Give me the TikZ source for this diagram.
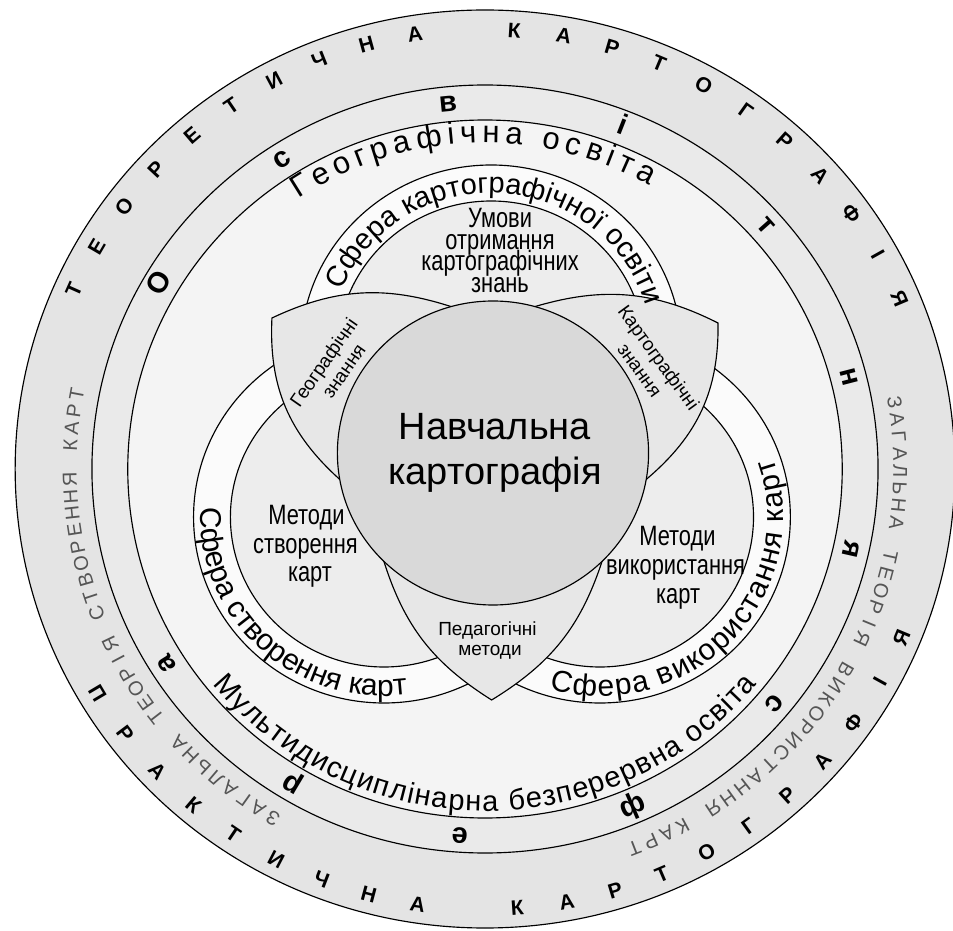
\documentclass[tikz,border=0pt]{standalone}
\usepackage{fontspec}
\setmainfont{Liberation Sans}
\newfontfamily\condfont{Liberation Sans}[FakeStretch=0.78]
\usetikzlibrary{decorations.text}
\definecolor{outerband}{HTML}{E4E4E4}
\definecolor{midband}{HTML}{EAEAEA}
\definecolor{innerfill}{HTML}{F4F4F4}
\definecolor{ringband}{HTML}{FBFBFB}
\definecolor{ringcore}{HTML}{EDEDED}
\definecolor{petalfill}{HTML}{E7E7E7}
\definecolor{corefill}{HTML}{D9D9D9}
\definecolor{graytext}{HTML}{555555}
\newcommand\ringword[7]{%
  \foreach \ch [count=\i from 0] in {#1}{%
    \node[#6, rotate={#2+\i*(#3)+#5}] (#7\i) at ({#2+\i*(#3)}:#4) {\ch};}}
\tikzset{
  outerletter/.style={inner sep=0pt, anchor=base, font=\fontsize{21pt}{21pt}\selectfont\bfseries},
  grayletter/.style={inner sep=0pt, anchor=base, text=graytext, font=\fontsize{20pt}{20pt}\selectfont},
  bandletter/.style={inner sep=0pt, anchor=base, font=\fontsize{29pt}{29pt}\selectfont\bfseries},
  outl/.style={draw=black, line width=1.15pt},
  bigtext/.style={inner sep=0pt, anchor=base, font=\fontsize{38pt}{38pt}\selectfont},
  condtext/.style={inner sep=0pt, anchor=base, font=\condfont\fontsize{28pt}{28pt}\selectfont},
  smalltext/.style={inner sep=0pt, font=\fontsize{19pt}{19pt}\selectfont},
  arctext/.style={decorate, decoration={text along path, text format delimiters={|}{|}, text align={fit to path}, text={#1}}}
}
\begin{document}
\begin{tikzpicture}[x=1pt,y=1pt]
\useasboundingbox (-485,-462) rectangle (468,469);
\fill[white] (-485,-462) rectangle (468,469);
\begin{scope}[xscale=1.0236]
% big circles
\coordinate (C) at (0,0);
\filldraw[outl, fill=outerband] (C) circle[radius=459];
\filldraw[outl, fill=midband] (C) circle[radius=384];
\filldraw[outl, fill=innerfill] (C) circle[radius=349];
% rings
\coordinate (Ct) at (6,118);
\coordinate (Cl) at (-98.7,-48);
\coordinate (Cr) at (112.3,-48);
\foreach \c in {Ct,Cl,Cr} {\filldraw[outl, fill=ringband] (\c) circle[radius=186];}
\foreach \c in {Ct,Cl,Cr} {\filldraw[outl, fill=ringcore] (\c) circle[radius=150];}
% petals
\coordinate (Oc) at (7.8,16);
\coordinate (T1) at (-208.1,151);
\coordinate (T2) at (227.6,146);
\coordinate (T3) at (6.5,-231);
\coordinate (g1) at ({7.8+152*cos(190)},{16+152*sin(190)});
\coordinate (g2) at ({7.8+152*cos(105.6)},{16+152*sin(105.6)});
\coordinate (k1) at ({7.8+152*cos(74.4)},{16+152*sin(74.4)});
\coordinate (k2) at ({7.8+152*cos(350)},{16+152*sin(350)});
\coordinate (p1) at ({7.8+152*cos(314.5)},{16+152*sin(314.5)});
\coordinate (p2) at ({7.8+152*cos(225.5)},{16+152*sin(225.5)});
\filldraw[outl, fill=petalfill] (g1) to[bend left=25] (T1) to[bend left=22] (g2) -- cycle;
\filldraw[outl, fill=petalfill] (k1) to[bend left=22] (T2) to[bend left=25] (k2) -- cycle;
\filldraw[outl, fill=petalfill] (p1) to[bend left=20] (T3) to[bend left=20] (p2) -- cycle;
% central circle
\filldraw[outl, fill=corefill] (Oc) circle[radius=152];
% arc texts
\path[arctext={|\fontsize{29pt}{29pt}\selectfont|Сфера картографічної освіти}]
  ({6+158*cos(157.5)},{118+158*sin(157.5)}) arc[start angle=157.5, end angle=19, radius=158];
\path[arctext={|\fontsize{30pt}{30pt}\selectfont|Сфера створення карт}]
  ({-98.7+179*cos(177)},{-48+179*sin(177)}) arc[start angle=177, end angle=276, radius=179];
\path[arctext={|\fontsize{30pt}{30pt}\selectfont|Сфера використання карт}]
  ({112.3+179*cos(254)},{-48+179*sin(254)}) arc[start angle=254, end angle=379, radius=179];
\path[arctext={|\fontsize{31pt}{31pt}\selectfont|Географічна освіта}]
  ({326*cos(124)},{326*sin(124)}) arc[start angle=124, end angle=60.5, radius=326];
\path[arctext={|\fontsize{29pt}{29pt}\selectfont|Мультидисциплінарна безперервна освіта}]
  ({342*cos(219)},{342*sin(219)}) arc[start angle=219, end angle=321, radius=342];
% letters around
\ringword{Т,Е,О,Р,Е,Т,И,Ч,Н,А}{156}{-6.34}{432.5}{-90}{outerletter}{ta}
\ringword{К,А,Р,Т,О,Г,Р,А,Ф,І,Я}{86.26}{-6.34}{432.5}{-90}{outerletter}{tb}
\ringword{П,Р,А,К,Т,И,Ч,Н,А}{210.7}{6.34}{447.5}{90}{outerletter}{pa}
\ringword{К,А,Р,Т,О,Г,Р,А,Ф,І,Я}{274.1}{6.34}{447.5}{90}{outerletter}{pb}
\ringword{З,А,Г,А,Л,Ь,Н,А}{239.3}{-2.41}{399}{-90}{grayletter}{la}
\ringword{Т,Е,О,Р,І,Я}{217.61}{-2.41}{399}{-90}{grayletter}{lb}
\ringword{С,Т,В,О,Р,Е,Н,Н,Я}{200.74}{-2.41}{399}{-90}{grayletter}{lc}
\ringword{К,А,Р,Т}{176.64}{-2.41}{399}{-90}{grayletter}{ld}
\ringword{З,А,Г,А,Л,Ь,Н,А}{9.5}{-2.45}{399}{-90}{grayletter}{ra}
\ringword{Т,Е,О,Р,І,Я}{-12.55}{-2.45}{399}{-90}{grayletter}{rb}
\ringword{В,И,К,О,Р,И,С,Т,А,Н,Н,Я}{-29.7}{-2.45}{399}{-90}{grayletter}{rc}
\ringword{К,А,Р,Т}{-61.55}{-2.45}{399}{-90}{grayletter}{rd}
\ringword{О,с,в,і,т,н,я,с,ф,е,р,а}{149.8}{-27.07}{359.5}{-90}{bandletter}{ba}
% inner texts
\node[bigtext] (n1) at (9.8,29) {Навчальна};
\node[bigtext] (n2) at (9.8,-16) {картографія};
\node[condtext] (u1) at (14.7,241) {Умови};
\node[condtext] (u2) at (14.7,219.5) {отримання};
\node[condtext] (u3) at (14.7,198) {картографічних};
\node[condtext] (u4) at (14.7,176.5) {знань};
\node[condtext] (m1) at (-174.4,-56) {Методи};
\node[condtext] (m2) at (-175.4,-84.5) {створення};
\node[condtext] (m3) at (-171,-113) {карт};
\node[condtext] (v1) at (188,-77) {Методи};
\node[condtext] (v2) at (186.1,-106) {використання};
\node[condtext] (v3) at (188.6,-135) {карт};
\node[smalltext, anchor=base] (pm1) at (2.4,-166) {Педагогічні};
\node[smalltext, anchor=base] (pm2) at (4.9,-186) {методи};
\node[smalltext, rotate=55] (gz1) at (-156.3,105.5) {Географічні};
\node[smalltext, rotate=55] (gz2) at (-136.8,97) {знання};
\node[smalltext, rotate=-54] (kz1) at (168.5,110) {Картографічні};
\node[smalltext, rotate=-54] (kz2) at (150,98) {знання};
\end{scope}
\end{tikzpicture}
\end{document}
